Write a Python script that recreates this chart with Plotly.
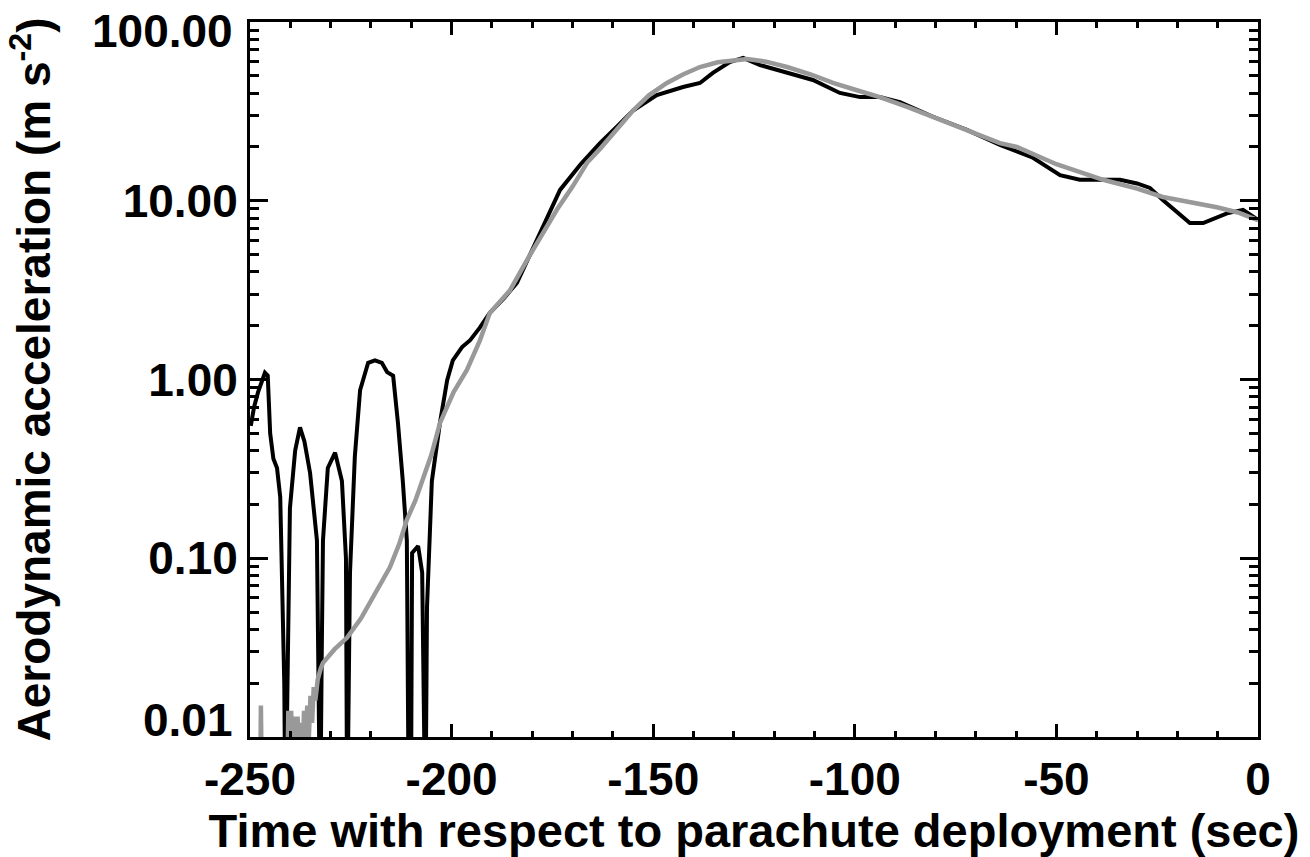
import math
import plotly.graph_objects as go

# Black curve: measured aerodynamic acceleration
t_black = [-249.8, -249.0, -248.0, -247.0, -246.3, -245.6, -245.0, -244.2, -243.3, -242.5,
           -242.0, -241.5, -241.2, -240.8, -240.1, -238.8, -237.6, -236.5, -235.1, -233.4,
           -232.9, -232.6, -232.2, -231.9, -230.7, -228.9, -227.2, -226.2, -225.9, -225.2,
           -224.0, -222.7, -220.7, -219.0, -217.3, -216.0, -214.5, -213.3, -212.1, -211.1,
           -210.6, -210.1, -209.8, -208.3, -207.3, -206.9, -206.5, -206.1, -204.9, -202.9,
           -201.1, -199.7, -197.4, -195.4, -193.0, -190.5, -187.0, -183.8, -178.8, -173.1,
           -168.0, -164.9, -163.2, -159.0, -155.0, -149.1, -142.6, -138.4, -135.2, -131.0,
           -127.7, -123.5, -116.8, -110.4, -103.7, -98.7, -93.8, -88.8, -80.6, -72.2,
           -64.0, -56.0, -49.1, -44.2, -39.2, -34.2, -30.0, -26.8, -23.6, -16.9,
           -13.6, -7.7, -3.7, 0.0]
a_black = [0.55, 0.70, 0.85, 1.00, 1.09, 1.05, 0.50, 0.36, 0.32, 0.22,
           0.08, 0.02, 0.003, 0.02, 0.19, 0.40, 0.54, 0.45, 0.30, 0.126,
           0.02, 0.003, 0.03, 0.126, 0.32, 0.39, 0.27, 0.10, 0.003, 0.083,
           0.37, 0.87, 1.24, 1.28, 1.24, 1.10, 1.05, 0.57, 0.27, 0.126,
           0.003, 0.003, 0.107, 0.117, 0.083, 0.003, 0.003, 0.053, 0.27, 0.57,
           0.99, 1.28, 1.52, 1.66, 1.95, 2.36, 2.85, 3.47, 6.0, 11.5,
           16.0, 19.2, 21.0, 26.0, 32.0, 39.0, 43.3, 45.6, 51.9, 59.7,
           63.0, 57.4, 51.9, 47.4, 40.1, 38.0, 38.0, 35.6, 29.5, 24.9,
           20.5, 17.5, 13.9, 13.1, 13.1, 13.1, 12.5, 11.8, 10.1, 7.5,
           7.5, 8.5, 8.9, 7.8]

# Grey curve: model / reconstructed acceleration
t_gray = [-250.0, -247.5, -247.3, -247.0, -240.8, -240.5, -240.2, -239.8, -239.4, -239.0,
          -238.6, -238.2, -237.8, -237.4, -237.0, -236.6, -236.2, -235.8, -235.4, -235.0,
          -234.6, -234.2, -233.8, -233.2, -232.5, -231.9, -229.0, -225.9, -222.5, -219.5,
          -217.5, -215.3, -213.0, -211.1, -209.0, -207.1, -205.0, -202.9, -199.5, -196.2,
          -193.0, -190.5, -185.5, -181.3, -177.5, -173.9, -170.0, -166.4, -163.2, -159.0,
          -155.0, -151.0, -146.6, -142.5, -138.4, -134.0, -130.2, -126.7, -122.0, -116.8,
          -111.0, -105.4, -99.5, -93.8, -87.0, -80.6, -72.0, -64.0, -59.8, -50.0,
          -38.4, -30.0, -23.6, -16.0, -10.2, -5.0, 0.0]
a_gray = [0.004, 0.004, 0.015, 0.004, 0.004, 0.014, 0.006, 0.014, 0.007, 0.013,
          0.006, 0.013, 0.008, 0.012, 0.007, 0.014, 0.009, 0.015, 0.010, 0.017,
          0.012, 0.019, 0.016, 0.021, 0.024, 0.026, 0.031, 0.036, 0.046, 0.061,
          0.073, 0.089, 0.12, 0.164, 0.21, 0.274, 0.38, 0.57, 0.85, 1.13,
          1.65, 2.36, 3.16, 4.66, 6.5, 8.9, 12.0, 16.3, 19.5, 25.0,
          32.0, 39.0, 45.6, 51.0, 56.0, 59.5, 61.2, 62.0, 60.0, 56.0,
          51.0, 45.6, 41.5, 38.0, 33.5, 29.5, 25.0, 21.0, 20.0, 16.0,
          13.1, 11.7, 10.5, 9.8, 9.2, 8.6, 7.8]

x_ticks = [-250, -200, -150, -100, -50, 0]
x_minor = [v for v in range(-250, 1, 10) if v % 50 != 0]
y_ticks = [0.01, 0.1, 1, 10, 100]
y_ticktext = ["0.01", "0.10", "1.00", "10.00", "100.00"]
y_minor = [m * d for d in [0.01, 0.1, 1, 10] for m in range(2, 10)]

FONT = "Liberation Sans"
tick_font = dict(family=FONT, size=46, color="black", weight="bold")

fig = go.Figure()
fig.add_trace(go.Scatter(x=t_black, y=a_black, mode="lines",
                         line=dict(color="#000000", width=4), showlegend=False))
fig.add_trace(go.Scatter(x=t_gray, y=a_gray, mode="lines",
                         line=dict(color="#999999", width=4.5), showlegend=False))

axis_common = dict(
    showline=True, linecolor="black", linewidth=3, mirror="allticks",
    ticks="inside", tickcolor="black", tickwidth=2.5,
    showgrid=False, zeroline=False, ticklabeloverflow="allow", automargin=False,
    tickfont=tick_font,
)

# End labels of the y axis are drawn inside the axis span (as in the original),
# the middle ones through the axis itself.
inner_text = ["" if i in (0, len(y_ticks) - 1) else s for i, s in enumerate(y_ticktext)]

fig.update_xaxes(
    range=[-250, 0], tickmode="array", tickvals=x_ticks,
    ticktext=[str(v) for v in x_ticks], ticklen=13,
    minor=dict(ticks="inside", tickvals=x_minor, ticklen=6, tickcolor="black", tickwidth=2.5),
    title=dict(text="Time with respect to parachute deployment (sec)",
               font=dict(family=FONT, size=47, color="black", weight="bold"), standoff=2),
    **axis_common,
)
fig.update_yaxes(
    type="log", range=[-2, 2], tickmode="array", tickvals=y_ticks,
    ticktext=inner_text, ticklen=18,
    minor=dict(ticks="inside", tickvals=y_minor, ticklen=9, tickcolor="black", tickwidth=2.5),
    title=dict(text="Aerodynamic acceleration (m s<sup>-2</sup>)",
               font=dict(family=FONT, size=46, color="black", weight="bold"), standoff=58),
    **axis_common,
)

for val, txt, shift in [(y_ticks[-1], y_ticktext[-1], -9), (y_ticks[0], y_ticktext[0], 17)]:
    fig.add_annotation(x=0, xref="paper", xanchor="right", xshift=-15,
                       y=math.log10(val), yref="y", yanchor="middle", yshift=shift,
                       text=txt, showarrow=False, font=tick_font)

fig.update_layout(
    width=1310, height=857,
    margin=dict(l=250, r=52, t=22, b=120),
    paper_bgcolor="white", plot_bgcolor="white",
)

fig.write_html("out.html")
